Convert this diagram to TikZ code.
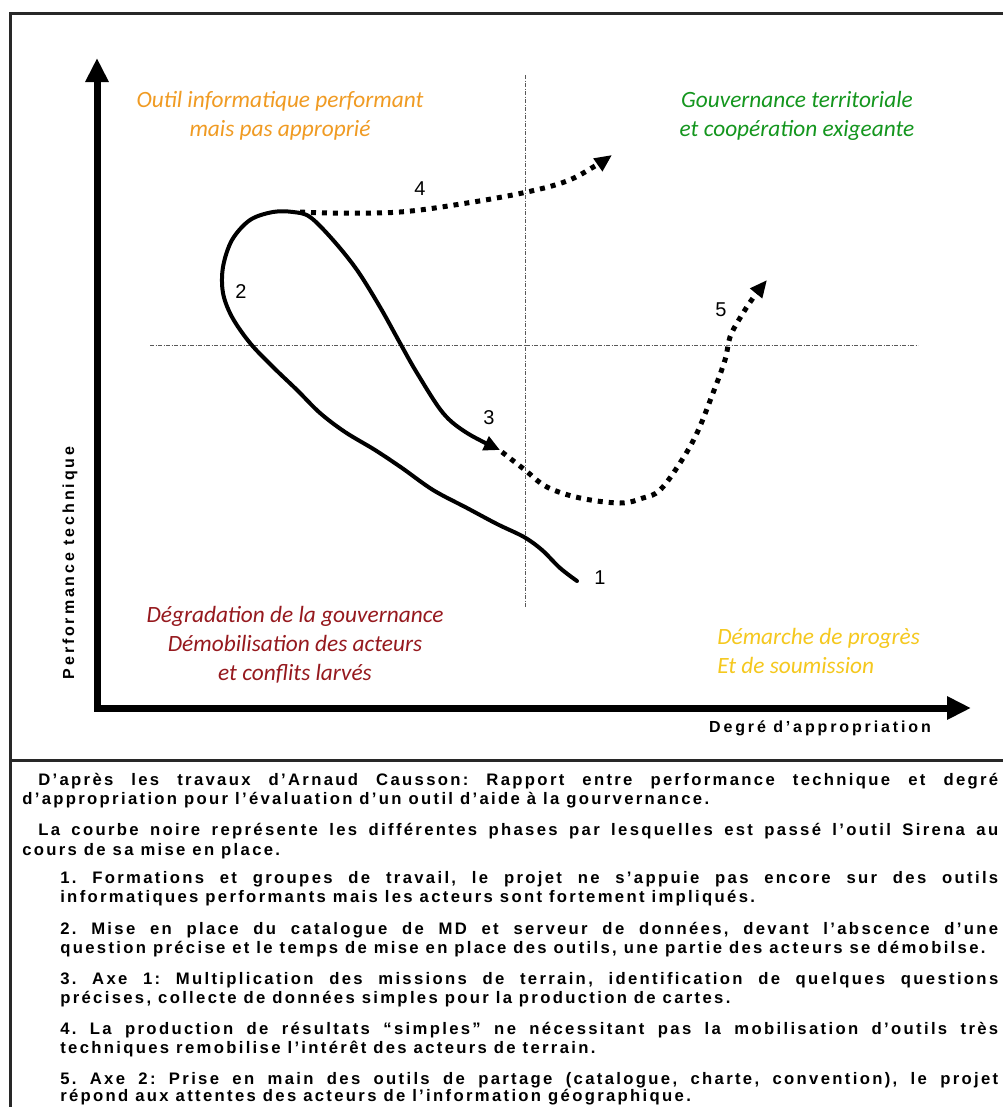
\documentclass[tikz,border=0pt]{standalone}
\usepackage{fontspec}
\setmainfont{Liberation Sans}
\newfontfamily\quadfont{Carlito}
\newfontfamily\capfont[LetterSpace=14]{Liberation Sans}
\newfontfamily\axisfont[LetterSpace=18]{Liberation Sans}
\usetikzlibrary{arrows.meta}
\definecolor{qorange}{RGB}{240,155,35}
\definecolor{qgreen}{RGB}{20,150,30}
\definecolor{qred}{RGB}{150,25,30}
\definecolor{qyellow}{RGB}{245,200,30}
\definecolor{framegray}{RGB}{40,40,40}
\frenchspacing
\begin{document}
\begin{tikzpicture}[x=0.75pt,y=-0.75pt,
  quad/.style={font=\quadfont\itshape\fontsize{17.5}{21.75}\selectfont, inner sep=0pt},
  num/.style={font=\fontsize{15}{15}\selectfont, inner sep=0pt},
  capline/.style={anchor=base west, inner sep=0pt, font=\capfont\bfseries\fontsize{12.5}{14}\selectfont},
  axislab/.style={font=\axisfont\bfseries\fontsize{12}{14}\selectfont, inner sep=0pt},
  axisline/.style={line width=5.25pt, line join=miter},
  guide/.style={line width=0.6pt, black!65, dash pattern=on 3pt off 1.2pt on 0.6pt off 1.2pt},
  phase/.style={line width=3pt, line cap=round, line join=round},
  dotphase/.style={line width=3.75pt, dash pattern=on 3.75pt off 4.5pt},
]
\useasboundingbox (0,0) rectangle (1003,1107);
\fill[white] (0,0) rectangle (1003,1107);
% frame
\draw[line width=2.25pt, framegray] (1003,13) -- (10,13) -- (10,1107);
\draw[line width=2.25pt, framegray] (10,760) -- (1003,760);
% axes
\coordinate (ytop) at (97,58);
\coordinate (origin) at (97,708);
\coordinate (xend) at (971,708);
\draw[axisline, {Triangle[width=16.5pt,length=18pt]}-{Triangle[width=16.5pt,length=18pt]}] (ytop) -- (origin) -- (xend);
% guides
\coordinate (vtop) at (525,75);
\coordinate (vbot) at (525,608);
\coordinate (hl) at (150,345);
\coordinate (hr) at (918,345);
\draw[guide] (vtop) -- (vbot);
\draw[guide] (hl) -- (hr);
% quadrant labels
\node[quad, text=qorange, align=center] (q1) at (280,116) {Outil informatique performant\\mais pas approprié};
\node[quad, text=qgreen, align=center] (q2) at (797,116) {Gouvernance territoriale\\et coopération exigeante};
\node[quad, text=qred, align=center] (q3) at (295,645) {Dégradation de la gouvernance\\Démobilisation des acteurs\\et conflits larvés};
\node[quad, text=qyellow, align=left, anchor=west] (q4) at (717,651) {Démarche de progrès\\Et de soumission};
% axis labels
\node[axislab, rotate=90] (ylab) at (70,563) {Performance technique};
\node[axislab] (xlab) at (820,728) {Degré d’appropriation};
% curves
\coordinate (p1) at (577,581);
\coordinate (p3) at (500,450);
\coordinate (p4e) at (612,155);
\coordinate (p5e) at (767,280);
\draw[phase, -{Triangle[width=11pt,length=12pt]}] plot[smooth, tension=0.55] coordinates {
 (577,581) (560,568) (542,550) (524,537) (497,524) (467,508) (433,490) (402,468) (375,450) (345,432) (320,413) (297,390) (273,367) (250,343) (232,317) (223,293) (223,267) (232,240) (250,220) (273,212) (293,212) (310,217) (333,240) (357,270) (380,307) (400,343) (417,373) (443,413) (467,433) (500,450)};
\draw[dotphase, -{Triangle[width=11pt,length=13pt]}] plot[smooth, tension=0.6] coordinates {
 (300,212) (333,213) (400,212) (467,203) (527,192) (567,181) (595,166) (612,155)};
\draw[dotphase, -{Triangle[width=11pt,length=13pt]}] plot[smooth, tension=0.6] coordinates {
 (502,452) (525,470) (547,487) (580,498) (620,503) (643,498) (660,490) (680,463) (697,433) (713,393) (725,360) (730,337) (740,318) (753,298) (767,280)};
% phase numbers
\node[num] (n1) at (600,578) {1};
\node[num] (n2) at (241,292) {2};
\node[num] (n3) at (489,418) {3};
\node[num] (n4) at (420,189) {4};
\node[num] (n5) at (721,310) {5};
% caption
\node[capline] (c1) at (38,785) {\makebox[720pt][s]{D’après les travaux d’Arnaud Causson: Rapport entre performance technique et degré}};
\node[capline] (c2) at (22,804) {d’appropriation pour l’évaluation d’un outil d’aide à la gourvernance.};
\node[capline] (c3) at (38,835) {\makebox[720pt][s]{La courbe noire représente les différentes phases par lesquelles est passé l’outil Sirena au}};
\node[capline] (c4) at (22,855) {cours de sa mise en place.};
\node[capline] (i1a) at (60,883) {\makebox[703.5pt][s]{1. Formations et groupes de travail, le projet ne s’appuie pas encore sur des outils}};
\node[capline] (i1b) at (60,902) {informatiques performants mais les acteurs sont fortement impliqués.};
\node[capline] (i2a) at (60,934) {\makebox[703.5pt][s]{2. Mise en place du catalogue de MD et serveur de données, devant l’abscence d’une}};
\node[capline] (i2b) at (60,953) {question précise et le temps de mise en place des outils, une partie des acteurs se démobilse.};
\node[capline] (i3a) at (60,984) {\makebox[703.5pt][s]{3. Axe 1: Multiplication des missions de terrain, identification de quelques questions}};
\node[capline] (i3b) at (60,1003) {précises, collecte de données simples pour la production de cartes.};
\node[capline] (i4a) at (60,1034) {\makebox[703.5pt][s]{4. La production de résultats “simples” ne nécessitant pas la mobilisation d’outils très}};
\node[capline] (i4b) at (60,1053) {techniques remobilise l’intérêt des acteurs de terrain.};
\node[capline] (i5a) at (60,1084) {\makebox[703.5pt][s]{5. Axe 2: Prise en main des outils de partage (catalogue, charte, convention), le projet}};
\node[capline] (i5b) at (60,1101) {répond aux attentes des acteurs de l’information géographique.};
\end{tikzpicture}
\end{document}
